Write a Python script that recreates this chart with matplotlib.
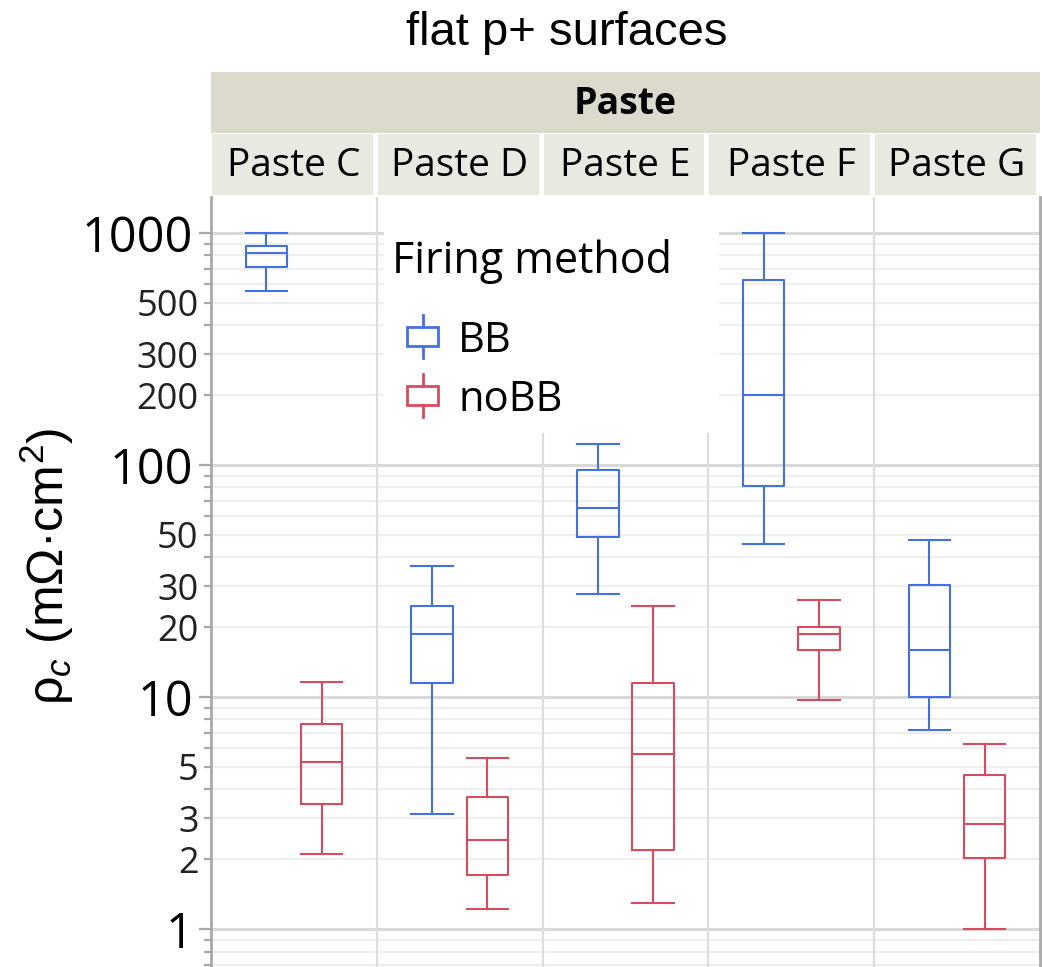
import matplotlib
matplotlib.use("Agg")
import matplotlib.pyplot as plt
from matplotlib.patches import Rectangle
from matplotlib.lines import Line2D

# ---- data: contact resistivity per paste and firing method (mOhm*cm^2) ----
pastes = ["Paste C", "Paste D", "Paste E", "Paste F", "Paste G"]
methods = ["BB", "noBB"]

bb_low = [561, 3.13, 27.9, 45.8, 7.2]
bb_q1 = [713, 11.5, 48.8, 81.5, 10.0]
bb_med = [817, 18.7, 65.5, 200, 15.9]
bb_q3 = [881, 24.7, 95.1, 629, 30.5]
bb_high = [1000, 36.7, 123.6, 1000, 47.5]

nobb_low = [2.10, 1.22, 1.30, 9.7, 1.0]
nobb_q1 = [3.47, 1.71, 2.18, 16.0, 2.02]
nobb_med = [5.23, 2.41, 5.68, 18.6, 2.84]
nobb_q3 = [7.63, 3.71, 11.5, 20.1, 4.62]
nobb_high = [11.6, 5.44, 24.7, 26.2, 6.25]

major_ticks = [1, 10, 100, 1000]
minor_labelled = [2, 3, 5, 20, 30, 50, 200, 300, 500]

# ---- styling ----
BLUE = "#4570E0"
RED = "#D84A5E"
GRID_MAJOR = "#D6D6D6"
GRID_MINOR = "#EEEEEE"
SEP = "#DDDDDD"
SPINE = "#A8A8A8"
UI_FONT = "Open Sans"
LABEL_FONT = "Liberation Sans"

plt.rcParams["mathtext.fontset"] = "custom"
plt.rcParams["mathtext.rm"] = LABEL_FONT
plt.rcParams["mathtext.it"] = LABEL_FONT + ":italic"

W, H = 1042, 967
fig = plt.figure(figsize=(W / 100, H / 100), dpi=100)


def fx(px):
    return px / W


def fy(py):
    return 1 - py / H


left, right, top = 211, 1040, 197
ax = fig.add_axes([fx(left), 0, fx(right) - fx(left), fy(top)])
ax.set_yscale("log")
ax.set_ylim(0.686, 1429)
ax.set_xlim(0, len(pastes))

# horizontal grid at every 1..9 multiple of each decade
for dec in [0.1, 1, 10, 100, 1000]:
    for k in range(1, 10):
        v = k * dec
        if 0.686 < v < 1429:
            ax.axhline(v, color=GRID_MAJOR if k == 1 else GRID_MINOR,
                       lw=2.0 if k == 1 else 1.6, zorder=0)

# panel separators
for i in range(1, len(pastes)):
    ax.axvline(i, color=SEP, lw=1.6, zorder=0.5)

# legend background
ax.add_patch(Rectangle((fx(384), fy(433)), fx(719) - fx(384), fy(197) - fy(433),
                       transform=fig.transFigure, facecolor="white",
                       edgecolor="none", zorder=1))


def stats(low, q1, med, q3, high):
    return [dict(whislo=a, q1=b, med=c, q3=d, whishi=e)
            for a, b, c, d, e in zip(low, q1, med, q3, high)]


groups = [
    (stats(bb_low, bb_q1, bb_med, bb_q3, bb_high), BLUE, 1 / 3),
    (stats(nobb_low, nobb_q1, nobb_med, nobb_q3, nobb_high), RED, 2 / 3),
]
for st, col, off in groups:
    pos = [i + off for i in range(len(pastes))]
    lp = dict(color=col, lw=1.5)
    ax.bxp(st, positions=pos, widths=0.25, capwidths=0.25, showfliers=False,
           boxprops=lp, whiskerprops=lp, capprops=lp, medianprops=lp,
           manage_ticks=False, zorder=3)

# axes frame
for s in ["top", "bottom"]:
    ax.spines[s].set_visible(False)
for s in ["left", "right"]:
    ax.spines[s].set_color(SPINE)
    ax.spines[s].set_linewidth(2)
ax.set_xticks([])

ax.set_yticks(major_ticks)
ax.set_yticklabels([str(v) for v in major_ticks], fontsize=35, family=UI_FONT)
minor_all = [k * d for d in [0.1, 1, 10, 100, 1000] for k in range(2, 10)
             if 0.686 < k * d < 1429]
ax.set_yticks(minor_all, minor=True)
ax.set_yticklabels([(f"{v:g}" if v in minor_labelled else "") for v in minor_all],
                   minor=True, fontsize=26, family=UI_FONT, color="#222222")
ax.tick_params(axis="y", which="major", length=9, width=1.6, color=SPINE, pad=4)
ax.tick_params(axis="y", which="minor", length=5, width=1.6, color=SPINE, pad=4)

# header bands
fig.patches.append(Rectangle((fx(left), fy(133)), fx(right) - fx(left), fy(72) - fy(133),
                             transform=fig.transFigure, facecolor="#DCDACC",
                             edgecolor="none"))
fig.text(fx((left + right) / 2), fy(104), "Paste", fontsize=27, fontweight="bold",
         family=UI_FONT, ha="center", va="center")
pw = (right - left) / len(pastes)
for i, name in enumerate(pastes):
    x0 = left + i * pw
    fig.patches.append(Rectangle((fx(x0 + 1), fy(195)), fx(pw - 5), fy(134) - fy(195),
                                 transform=fig.transFigure, facecolor="#EAE9E1",
                                 edgecolor="none"))
    fig.text(fx(x0 + pw / 2), fy(166), name, fontsize=28, family=UI_FONT,
             ha="center", va="center")

# title and axis label
fig.text(fx(567), fy(33), "flat p+ surfaces", fontsize=34, family=LABEL_FONT,
         ha="center", va="center")
fig.text(fx(47), fy(566), r"ρ$_c$ (mΩ·cm$^2$)", fontsize=36, family=LABEL_FONT,
         rotation=90, ha="center", va="center")

# legend
fig.text(fx(392), fy(273), "Firing method", fontsize=31, family=UI_FONT,
         ha="left", va="baseline", zorder=6)
for (label, col, ybox0, ybox1, ywl, ywh, ytext) in [
    ("BB", BLUE, 327, 346, 315, 358, 352),
    ("noBB", RED, 386, 405, 374, 417, 411),
]:
    fig.add_artist(Rectangle((fx(407), fy(ybox1)), fx(438) - fx(407), fy(ybox0) - fy(ybox1),
                             transform=fig.transFigure, facecolor="none",
                             edgecolor=col, lw=2, zorder=6))
    fig.add_artist(Line2D([fx(422.5), fx(422.5)], [fy(ywl), fy(ybox0)],
                          transform=fig.transFigure, color=col, lw=2, zorder=6))
    fig.add_artist(Line2D([fx(422.5), fx(422.5)], [fy(ybox1), fy(ywh)],
                          transform=fig.transFigure, color=col, lw=2, zorder=6))
    fig.text(fx(458), fy(ytext), label, fontsize=30, family=UI_FONT,
             ha="left", va="baseline", zorder=6)

fig.savefig("out.png", dpi=100)
